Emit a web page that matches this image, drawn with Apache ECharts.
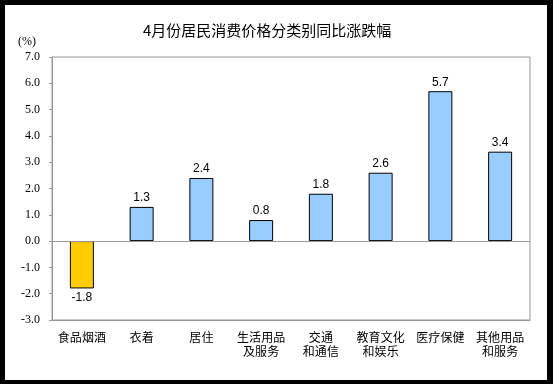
<!DOCTYPE html>
<html>
<head>
<meta charset="utf-8">
<script src="https://cdn.jsdelivr.net/npm/echarts@6/dist/echarts.min.js"></script>
<style>
html,body{margin:0;padding:0;background:#000;}
#wrap{position:absolute;left:0;top:0;width:542px;height:375px;border-left:5px solid #000;border-top:5px solid #000;border-right:6px solid #000;border-bottom:4px solid #000;background:#fff;}
#chart{width:542px;height:375px;}
</style>
</head>
<body>
<div id="wrap"><div id="chart"></div></div>
<script>
const categories = ['食品烟酒', '衣着', '居住', '生活用品\n及服务', '交通\n和通信', '教育文化\n和娱乐', '医疗保健', '其他用品\n和服务'];
const values = [-1.8, 1.3, 2.4, 0.8, 1.8, 2.6, 5.7, 3.4];
const yTicks = [-3, -2, -1, 0, 1, 2, 3, 4, 5, 6, 7];
const titleText = '4月份居民消费价格分类别同比涨跌幅';
const unitText = '(%)';

const chart = echarts.init(document.getElementById('chart'));
chart.setOption({
  animation: false,
  backgroundColor: '#fff',
  graphic: [
    { type: 'text', left: 138, top: 18, style: { text: titleText, font: '15px "Noto Sans CJK SC"', fill: '#000' } },
    { type: 'text', left: 13, top: 31, style: { text: unitText, font: '12px "Liberation Serif"', fill: '#000' } }
  ],
  grid: { left: 47, top: 52, right: 17, bottom: 60, show: true, borderColor: '#999', borderWidth: 1, backgroundColor: 'transparent' },
  xAxis: {
    type: 'category',
    data: categories,
    axisLine: { onZero: false, lineStyle: { color: '#999' } },
    axisTick: { show: false },
    axisLabel: { interval: 0, color: '#000', fontFamily: 'Noto Sans CJK SC', fontSize: 12, lineHeight: 14, margin: 10 }
  },
  yAxis: {
    type: 'value',
    min: yTicks[0],
    max: yTicks[yTicks.length - 1],
    interval: 1,
    axisLine: { show: true, lineStyle: { color: '#999' } },
    axisTick: { show: true, length: 3, lineStyle: { color: '#999' } },
    splitLine: { show: false },
    axisLabel: { color: '#000', fontFamily: 'Liberation Serif', fontSize: 12, margin: 12, formatter: v => v.toFixed(1) }
  },
  series: [{
    type: 'bar',
    barWidth: 24,
    data: values.map(v => ({
      value: v,
      itemStyle: { color: v < 0 ? '#FFCC00' : '#99CCFF', borderColor: '#000', borderWidth: 1 },
      label: { position: v < 0 ? 'bottom' : 'top' }
    })),
    label: { show: true, color: '#000', fontFamily: 'Liberation Sans', fontSize: 12, distance: 3, formatter: p => p.value.toFixed(1) },
    markLine: {
      silent: true, symbol: 'none', label: { show: false },
      lineStyle: { color: '#999', type: 'solid', width: 1 },
      data: [{ yAxis: 0 }]
    }
  }]
});
</script>
</body>
</html>
